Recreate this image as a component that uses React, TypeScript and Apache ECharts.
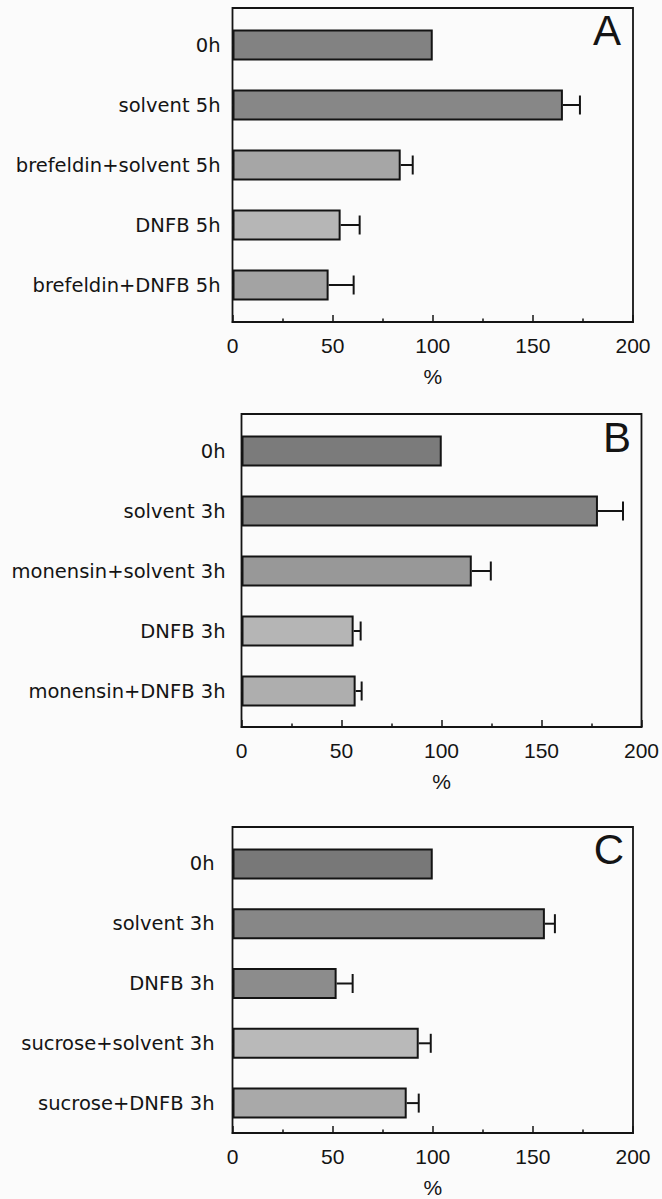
import React, { useEffect, useRef } from "react";
import * as echarts from "echarts";

// ---- Data ----
const catsA = ["0h", "solvent 5h", "brefeldin+solvent 5h", "DNFB 5h", "brefeldin+DNFB 5h"];
const valsA = [100, 165, 84, 54, 48];
const errsA = [0, 8.5, 6, 9.5, 12.5];

const catsB = ["0h", "solvent 3h", "monensin+solvent 3h", "DNFB 3h", "monensin+DNFB 3h"];
const valsB = [100, 178, 115, 56, 57];
const errsB = [0, 12.5, 9.5, 3.5, 3];

const catsC = ["0h", "solvent 3h", "DNFB 3h", "sucrose+solvent 3h", "sucrose+DNFB 3h"];
const valsC = [100, 156, 52, 93, 87];
const errsC = [0, 5, 8, 6, 6];

const xTicks = [0, 50, 100, 150, 200];
const panelLetters = ["A", "B", "C"];

// ---- Styles ----
const colorsA = ["#828282", "#878787", "#a6a6a6", "#b6b6b6", "#a3a3a3"];
const colorsB = ["#7b7b7b", "#838383", "#989898", "#b5b5b5", "#aeaeae"];
const colorsC = ["#787878", "#878787", "#8c8c8c", "#b9b9b9", "#a9a9a9"];

const INK = "#141414";

type Panel = {
  cats: string[];
  vals: number[];
  errs: number[];
  colors: string[];
  frame: { left: number; top: number; width: number; height: number };
  bars: { top: number; height: number };
  labelMargin: number;
  tickLen: number;
  letterPos: [number, number];
};

const panels: Panel[] = [
  {
    cats: catsA, vals: valsA, errs: errsA, colors: colorsA,
    frame: { left: 232.5, top: 8, width: 400.5, height: 314 },
    bars: { top: 15, height: 300 },
    labelMargin: 12, tickLen: 4, letterPos: [607, 30],
  },
  {
    cats: catsB, vals: valsB, errs: errsB, colors: colorsB,
    frame: { left: 241.5, top: 414, width: 400.5, height: 313 },
    bars: { top: 421, height: 300 },
    labelMargin: 16, tickLen: 4, letterPos: [617, 437],
  },
  {
    cats: catsC, vals: valsC, errs: errsC, colors: colorsC,
    frame: { left: 232.5, top: 827, width: 400.5, height: 312 },
    bars: { top: 834, height: 299 },
    labelMargin: 18, tickLen: 7, letterPos: [609, 849],
  },
];

export default function App() {
  const ref = useRef<HTMLDivElement>(null);

  useEffect(() => {
    if (!ref.current) return;
    const chart = echarts.init(ref.current, undefined, { renderer: "svg" });

    const grid: any[] = [];
    const xAxis: any[] = [];
    const yAxis: any[] = [];
    const series: any[] = [];
    const graphic: any[] = [];

    panels.forEach((p, i) => {
      const fi = i * 2;
      const bi = i * 2 + 1;
      grid.push({
        left: p.frame.left, top: p.frame.top, width: p.frame.width, height: p.frame.height,
        show: true, borderColor: INK, borderWidth: 1.8, backgroundColor: "transparent",
        containLabel: false,
      });
      grid.push({
        left: p.frame.left, top: p.bars.top, width: p.frame.width, height: p.bars.height,
        containLabel: false,
      });

      xAxis.push({
        type: "value", gridIndex: fi, min: xTicks[0], max: xTicks[xTicks.length - 1], interval: 50,
        axisLine: { show: true, lineStyle: { color: INK, width: 1.8 } },
        axisTick: { show: true, inside: true, length: 7, lineStyle: { color: INK, width: 1.5 } },
        minorTick: { show: true, splitNumber: 2, length: 3.5, lineStyle: { color: INK, width: 1.5 } },
        splitLine: { show: false },
        axisLabel: { margin: 13, color: INK, fontSize: 21, fontFamily: "Liberation Sans" },
        name: "%", nameLocation: "middle", nameGap: 44,
        nameTextStyle: { color: INK, fontSize: 21, fontFamily: "Liberation Sans" },
      });
      yAxis.push({
        type: "value", gridIndex: fi, show: false, min: 0, max: 1,
      });

      xAxis.push({
        type: "value", gridIndex: bi, min: xTicks[0], max: xTicks[xTicks.length - 1], show: false,
      });
      yAxis.push({
        type: "category", gridIndex: bi, data: p.cats, inverse: true,
        axisLine: { show: false },
        axisTick: { show: true, inside: true, alignWithLabel: true, length: p.tickLen, lineStyle: { color: "#2a2a2a", width: 1.8 } },
        axisLabel: { margin: p.labelMargin, color: INK, fontSize: 19.5, fontFamily: "DejaVu Sans" },
      });

      series.push({
        type: "bar", xAxisIndex: bi, yAxisIndex: bi, barWidth: 31,
        data: p.vals.map((v, k) => ({ value: v, itemStyle: { color: p.colors[k] } })),
        itemStyle: { borderColor: INK, borderWidth: 2 },
        z: 2,
      });

      series.push({
        type: "custom", xAxisIndex: bi, yAxisIndex: bi,
        data: p.vals.map((v, k) => [k, v, v + p.errs[k]]),
        encode: { x: [1, 2], y: 0 },
        z: 3,
        renderItem: (params: any, api: any) => {
          const c = api.value(0);
          const v = api.value(1);
          const hi = api.value(2);
          if (!(hi > v)) return { type: "group", children: [] };
          const p0 = api.coord([v, c]);
          const p1 = api.coord([hi, c]);
          const st = { stroke: INK, lineWidth: 2 };
          return {
            type: "group",
            children: [
              { type: "line", shape: { x1: p0[0], y1: p0[1], x2: p1[0], y2: p1[1] }, style: st },
              { type: "line", shape: { x1: p1[0], y1: p1[1] - 9.5, x2: p1[0], y2: p1[1] + 9.5 }, style: st },
            ],
          };
        },
      });

      graphic.push({
        type: "text", x: p.letterPos[0], y: p.letterPos[1],
        style: {
          text: panelLetters[i], fill: INK, fontSize: 42, fontFamily: "Liberation Sans",
          align: "center", verticalAlign: "middle",
        },
      });
    });

    chart.setOption({
      animation: false,
      backgroundColor: "#fbfbfb",
      grid, xAxis, yAxis, series, graphic,
    });

    return () => chart.dispose();
  }, []);

  return (
    <div
      ref={ref}
      style={{ position: "absolute", left: 0, top: 0, width: 662, height: 1199 }}
    />
  );
}
